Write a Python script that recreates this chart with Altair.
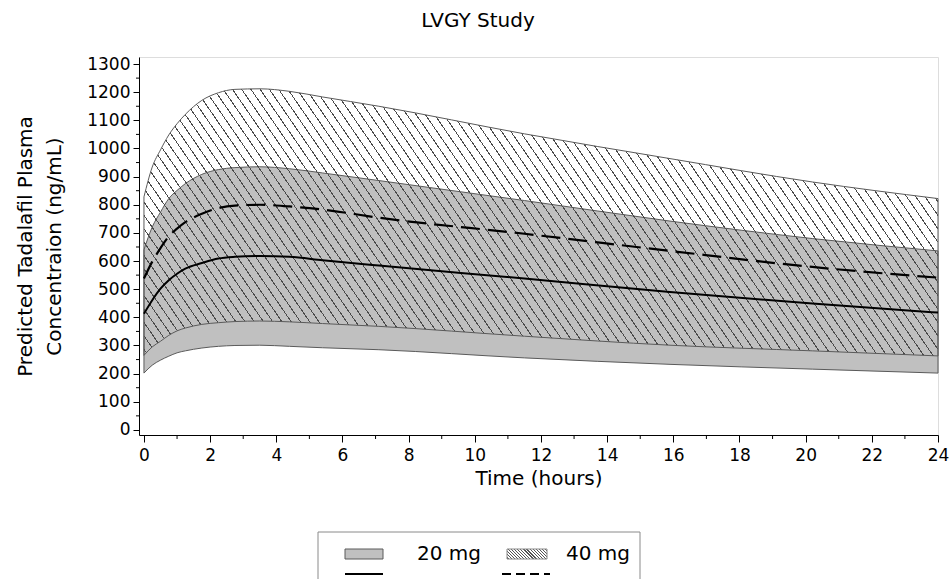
import math
import altair as alt
import pandas as pd

# Predicted plasma concentration over a 24 h dosing interval (ng/mL)
hours = [0, 0.25, 0.5, 0.75, 1, 1.25, 1.75, 2.25, 2.75, 3.5, 4.4, 5.4, 7.1, 11.5, 15.9, 20.2, 24]
median_20 = [413, 461, 502, 532, 555, 573, 593, 609, 615, 618, 615, 603, 584, 538, 490, 449, 417]
lower_20 = [202, 230, 248, 262, 274, 281, 291, 297, 300, 301, 297, 292, 285, 256, 233, 216, 202]
upper_20 = [640, 721, 774, 822, 851, 875, 908, 925, 932, 935, 928, 913, 886, 815, 742, 680, 636]
median_40 = [538, 598, 646, 688, 715, 738, 768, 788, 797, 800, 794, 783, 754, 697, 636, 579, 541]
lower_40 = [265, 295, 315, 336, 352, 362, 375, 381, 385, 387, 384, 378, 368, 333, 301, 281, 263]
upper_40 = [828, 934, 995, 1048, 1088, 1121, 1171, 1198, 1210, 1212, 1203, 1183, 1150, 1052, 964, 881, 822]

y_ticks = list(range(0, 1301, 100))
y_minor = list(range(50, 1300, 100))
x_ticks = list(range(0, 25, 2))
x_minor = list(range(1, 24, 2))

FONT = "DejaVu Sans"
W, H = 799, 378
X_DOMAIN = [-0.15, 24.0]
Y_DOMAIN = [-18, 1325]

df = pd.DataFrame({
    "hours": hours,
    "median_20": median_20, "lower_20": lower_20, "upper_20": upper_20,
    "median_40": median_40, "lower_40": lower_40, "upper_40": upper_40,
})

x_scale = alt.Scale(domain=X_DOMAIN, nice=False, zero=False)
y_scale = alt.Scale(domain=Y_DOMAIN, nice=False, zero=False)


def hatch_fill(box_w, box_h, slope, spacing, line_w, color):
    """Diagonal hatching as a hard-stop linear gradient in bounding-box units."""
    span = slope * box_w + box_h
    perp = span / math.sqrt(1 + slope ** 2)
    k = span / (slope ** 2 * box_w ** 2 + box_h ** 2)
    stops = [{"offset": 0, "color": "transparent"}]
    half = line_w / perp / 2
    c = spacing / perp / 2
    while c + half < 1:
        a, b = round(c - half, 6), round(c + half, 6)
        stops += [
            {"offset": a, "color": "transparent"},
            {"offset": a, "color": color},
            {"offset": b, "color": color},
            {"offset": b, "color": "transparent"},
        ]
        c += spacing / perp
    stops.append({"offset": 1, "color": "transparent"})
    return {
        "gradient": "linear",
        "x1": 0, "y1": 1,
        "x2": round(k * slope * box_w, 6), "y2": round(1 - k * box_h, 6),
        "stops": stops,
    }


px_per_hour = W / (X_DOMAIN[1] - X_DOMAIN[0])
px_per_unit = H / (Y_DOMAIN[1] - Y_DOMAIN[0])
band_w = (max(hours) - min(hours)) * px_per_hour
band_h = (max(upper_40) - min(lower_40)) * px_per_unit
band_hatch = hatch_fill(band_w, band_h, 1.45, 7.6, 1.0, "#4a4a4a")
swatch_hatch = hatch_fill(40, 10, 1.0, 2.2, 0.9, "#555555")

x_axis = alt.Axis(
    values=x_ticks, format="d", title="Time (hours)",
    titleFont=FONT, titleFontSize=20, titleFontWeight="normal", titleColor="black",
    titleY=49, titleBaseline="alphabetic",
    labelFont=FONT, labelFontSize=17, labelColor="black", labelPadding=5,
    labelFlush=False, labelOverlap=False,
    tickSize=7, tickColor="black", domainColor="black", grid=False,
)
y_axis = alt.Axis(
    values=y_ticks, format="d",
    title=["Predicted Tadalafil Plasma", "Concentraion (ng/mL)"],
    titleFont=FONT, titleFontSize=20, titleFontWeight="normal", titleColor="black",
    titleAngle=270, titleAlign="center", titleBaseline="alphabetic",
    titleX=-108, titleY=H / 2, titleLineHeight=29,
    labelFont=FONT, labelFontSize=17, labelColor="black", labelPadding=3,
    labelFlush=False, labelOverlap=False,
    tickSize=6, tickColor="black", domainColor="black", grid=False,
)

X = alt.X("hours:Q", scale=x_scale, axis=x_axis)

base = alt.Chart(df)

band_20 = base.mark_area(
    interpolate="monotone", fill="#c0c0c0", stroke="#5a5a5a", strokeWidth=1
).encode(
    x=X,
    y=alt.Y("lower_20:Q", scale=y_scale, axis=y_axis),
    y2="upper_20:Q",
)

band_40 = base.mark_area(
    interpolate="monotone", fill=band_hatch, stroke="#5a5a5a", strokeWidth=1
).encode(
    x=X,
    y=alt.Y("lower_40:Q", scale=y_scale, axis=y_axis),
    y2="upper_40:Q",
)

line_20 = base.mark_line(interpolate="monotone", color="black", strokeWidth=2).encode(
    x=X,
    y=alt.Y("median_20:Q", scale=y_scale, axis=y_axis),
)

line_40 = base.mark_line(
    interpolate="monotone", color="black", strokeWidth=2.2, strokeDash=[19, 8]
).encode(
    x=X,
    y=alt.Y("median_40:Q", scale=y_scale, axis=y_axis),
)

# minor ticks between the labelled ones
x_minor_ticks = alt.Chart(pd.DataFrame({"t": x_minor})).mark_rule(
    color="black", strokeWidth=1
).encode(
    x=alt.X("t:Q", scale=x_scale, axis=x_axis),
    y=alt.value(H), y2=alt.value(H + 4),
)
y_minor_ticks = alt.Chart(pd.DataFrame({"v": y_minor})).mark_rule(
    color="black", strokeWidth=1
).encode(
    y=alt.Y("v:Q", scale=y_scale, axis=y_axis),
    x=alt.value(0), x2=alt.value(-3),
)

one = alt.Data(values=[{}])

title = alt.Chart(one).mark_text(
    text="LVGY Study", font=FONT, fontSize=20, color="black",
    align="center", baseline="alphabetic",
).encode(x=alt.value(339), y=alt.value(-30))

# legend: box, swatches, line samples and labels
legend_box = alt.Chart(one).mark_rect(
    filled=False, color="#8a8a8a", strokeWidth=1
).encode(x=alt.value(179), x2=alt.value(501), y=alt.value(475), y2=alt.value(560))

swatch_20 = alt.Chart(one).mark_rect(
    fill="#c0c0c0", stroke="#5a5a5a", strokeWidth=1
).encode(x=alt.value(206), x2=alt.value(244), y=alt.value(492), y2=alt.value(502))

swatch_40 = alt.Chart(one).mark_rect(
    fill=swatch_hatch, stroke="#8a8a8a", strokeWidth=1
).encode(x=alt.value(368), x2=alt.value(408), y=alt.value(492), y2=alt.value(502))

sample_20 = alt.Chart(one).mark_rule(color="black", strokeWidth=2).encode(
    x=alt.value(206), x2=alt.value(244), y=alt.value(517)
)
sample_40 = alt.Chart(one).mark_rule(
    color="black", strokeWidth=2, strokeDash=[9, 5]
).encode(x=alt.value(363), x2=alt.value(411), y=alt.value(517))

label_20 = alt.Chart(one).mark_text(
    text="20 mg", font=FONT, fontSize=20, color="black", align="left", baseline="alphabetic"
).encode(x=alt.value(278), y=alt.value(503))
label_40 = alt.Chart(one).mark_text(
    text="40 mg", font=FONT, fontSize=20, color="black", align="left", baseline="alphabetic"
).encode(x=alt.value(427), y=alt.value(503))

chart = alt.layer(
    band_20, band_40, line_20, line_40, x_minor_ticks, y_minor_ticks,
    title, legend_box, swatch_20, swatch_40, sample_20, sample_40, label_20, label_40,
).properties(
    width=W, height=H,
    autosize=alt.AutoSizeParams(type="none"),
    padding={"left": 139, "top": 57, "right": 13, "bottom": 144},
    background="white",
).configure_view(
    stroke="black", strokeWidth=1
).configure(font=FONT)

chart.save("out.html", embed_options={"renderer": "svg", "actions": False})
